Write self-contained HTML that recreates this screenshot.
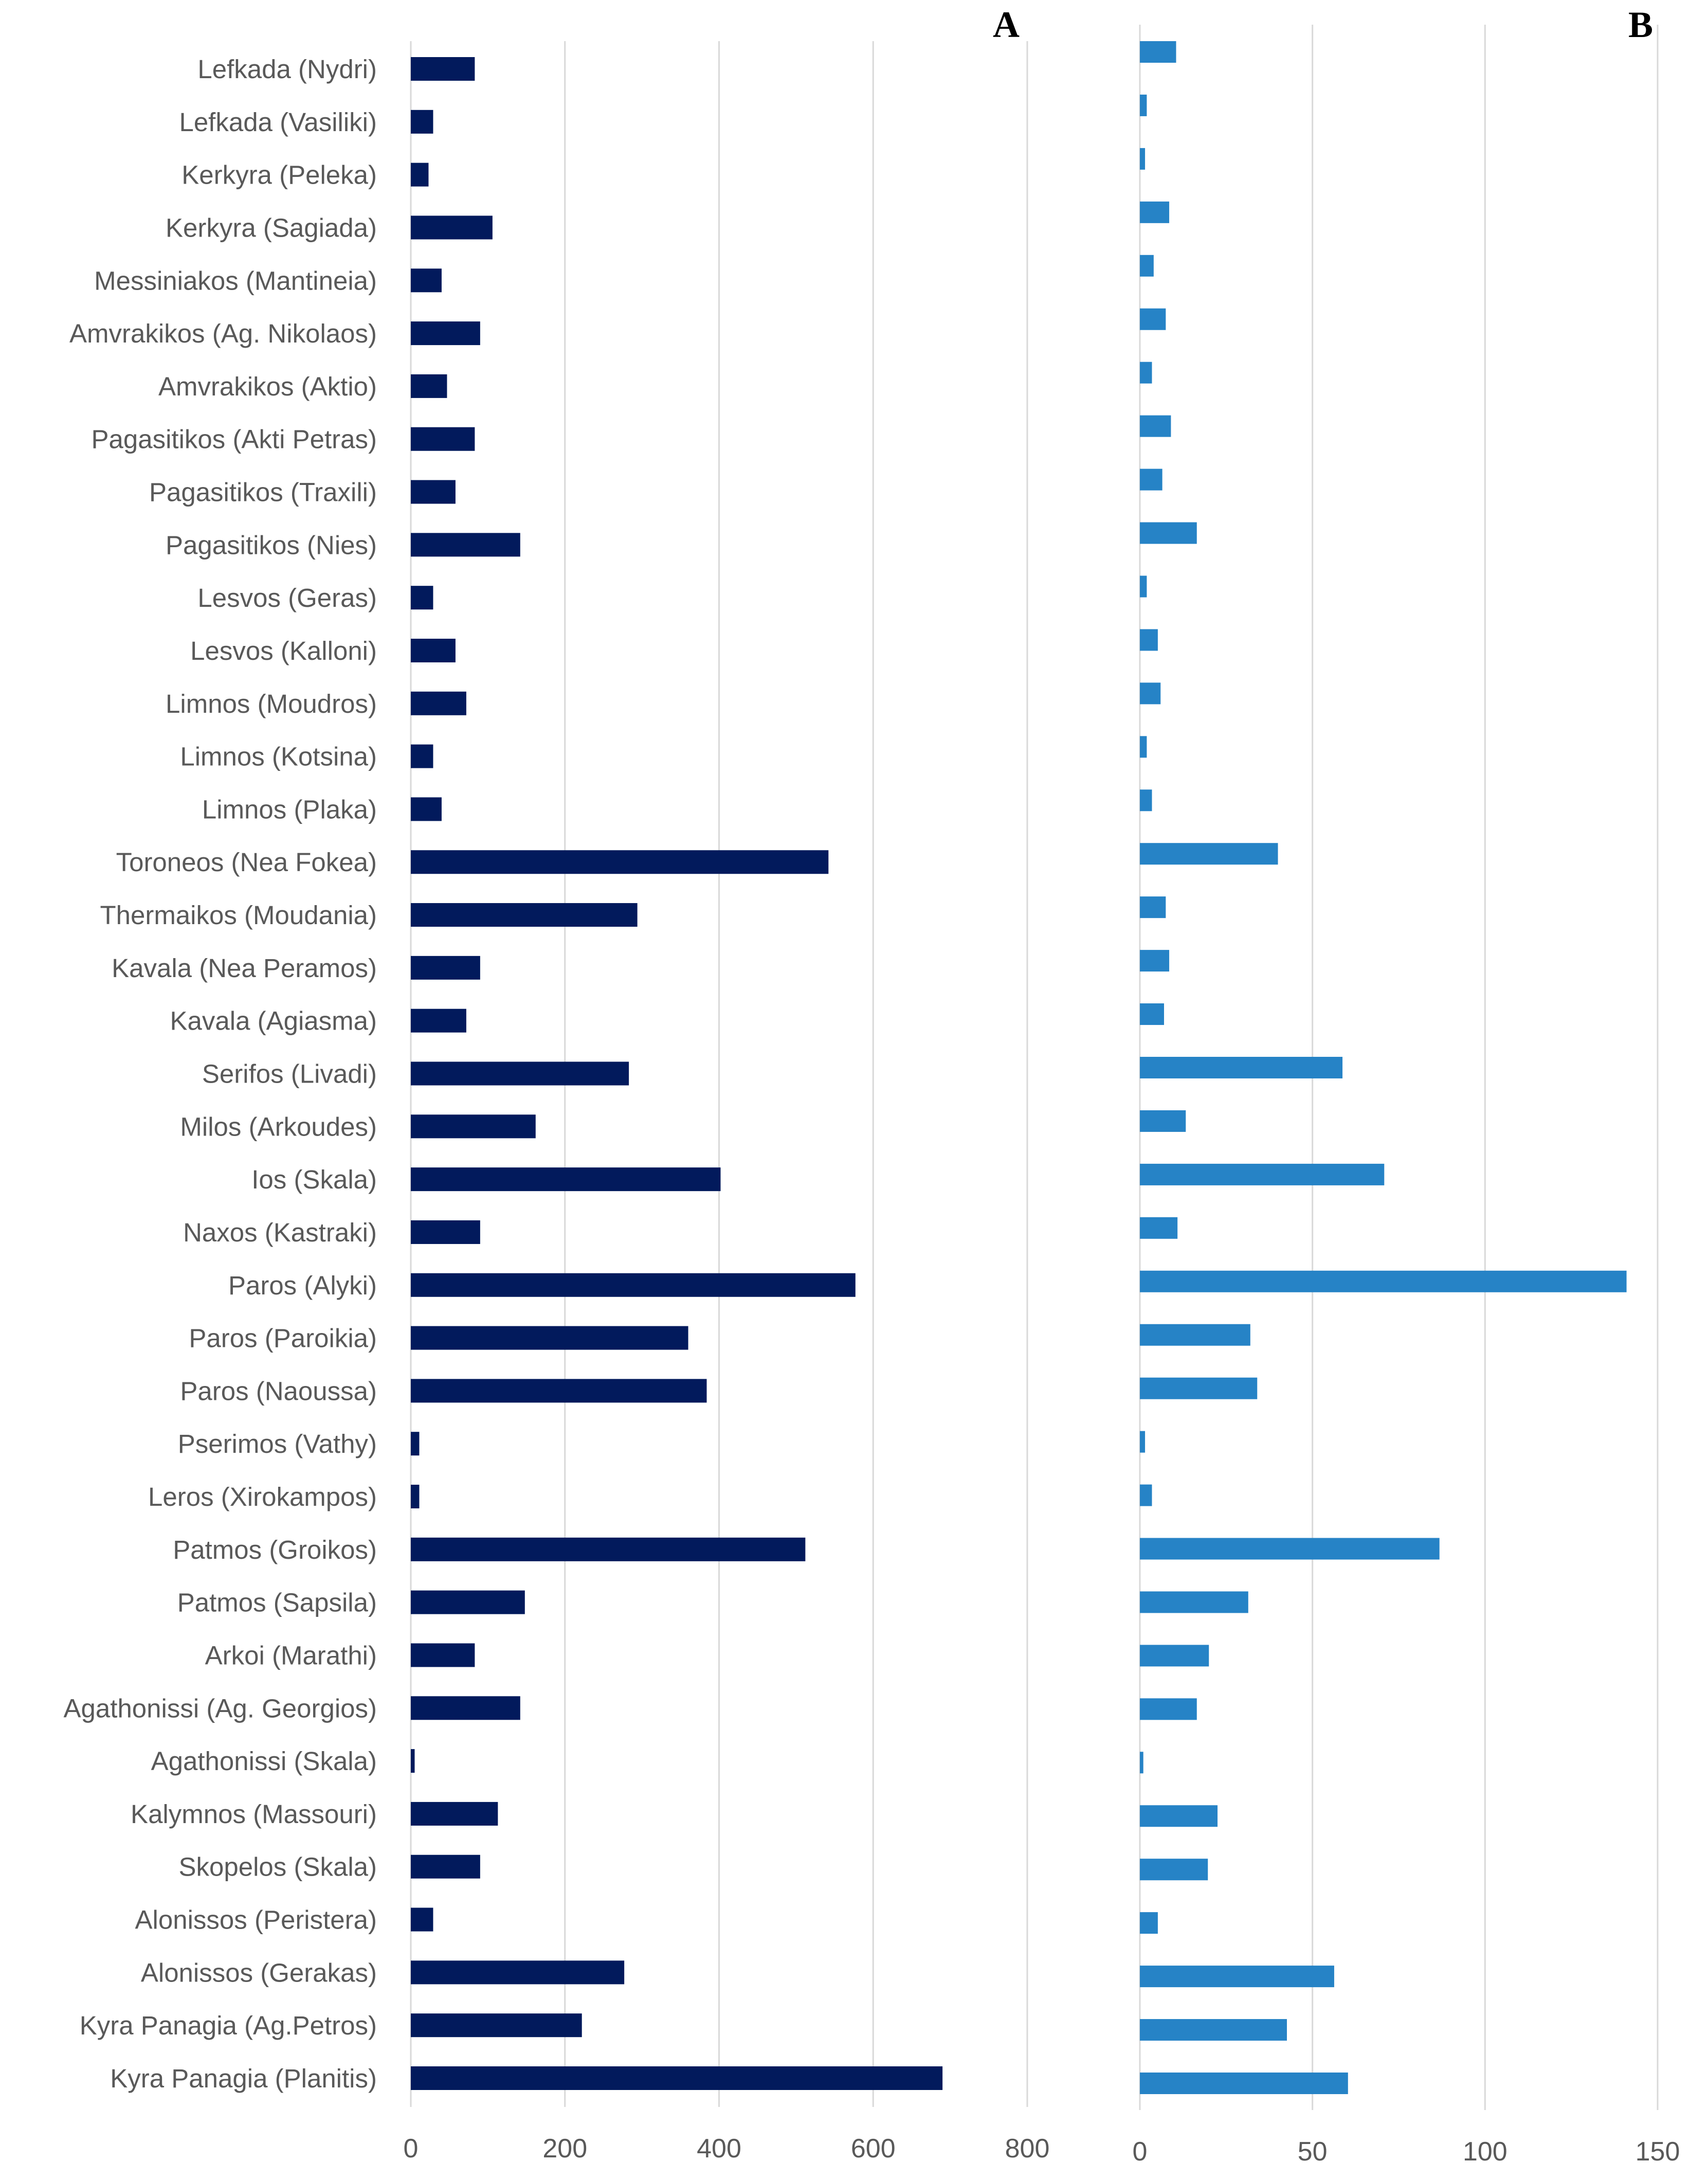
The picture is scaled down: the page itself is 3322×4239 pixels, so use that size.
<!DOCTYPE html>
<html><head><meta charset="utf-8"><style>
html,body{margin:0;padding:0;background:#fff;}
svg{display:block;}
</style></head><body>
<svg id="chart" width="3322" height="4239" viewBox="0 0 3322 4239" xmlns="http://www.w3.org/2000/svg">
<g id="grid"></g><g id="bars"></g><g id="labels"></g><g id="ticks"></g>
<text x="1957" y="72" font-family="Liberation Serif, serif" font-weight="bold" font-size="72" text-anchor="middle" fill="#000">A</text>
<text x="3191" y="72" font-family="Liberation Serif, serif" font-weight="bold" font-size="72" text-anchor="middle" fill="#000">B</text>
</svg>
<script>
const categories = ["Lefkada (Nydri)","Lefkada (Vasiliki)","Kerkyra (Peleka)","Kerkyra (Sagiada)","Messiniakos (Mantineia)","Amvrakikos (Ag. Nikolaos)","Amvrakikos (Aktio)","Pagasitikos (Akti Petras)","Pagasitikos (Traxili)","Pagasitikos (Nies)","Lesvos (Geras)","Lesvos (Kalloni)","Limnos (Moudros)","Limnos (Kotsina)","Limnos (Plaka)","Toroneos (Nea Fokea)","Thermaikos (Moudania)","Kavala (Nea Peramos)","Kavala (Agiasma)","Serifos (Livadi)","Milos (Arkoudes)","Ios (Skala)","Naxos (Kastraki)","Paros (Alyki)","Paros (Paroikia)","Paros (Naoussa)","Pserimos (Vathy)","Leros (Xirokampos)","Patmos (Groikos)","Patmos (Sapsila)","Arkoi (Marathi)","Agathonissi (Ag. Georgios)","Agathonissi (Skala)","Kalymnos (Massouri)","Skopelos (Skala)","Alonissos (Peristera)","Alonissos (Gerakas)","Kyra Panagia (Ag.Petros)","Kyra Panagia (Planitis)"];
const valuesA = [83,29,23,106,40,90,47,83,58,142,29,58,72,29,40,542,294,90,72,283,162,402,90,577,360,384,11,11,512,148,83,142,5,113,90,29,277,222,690];
const valuesB = [10.5,2,1.5,8.5,4,7.5,3.5,9,6.5,16.5,2,5.2,6,2,3.5,40,7.5,8.5,7,58.7,13.3,70.8,10.9,141,32,34,1.5,3.5,86.8,31.4,20,16.5,1,22.5,19.7,5.2,56.3,42.6,60.3];
const ticksA = [0,200,400,600,800];
const ticksB = [0,50,100,150];

const NS="http://www.w3.org/2000/svg";
const n = categories.length;
const xA = v => 799 + v*(1199/800);
const xB = v => 2217 + v*(1007/150);
const yA = i => 134 + i*(4041-134)/(n-1);
const yB = i => 101 + i*(4051-101)/(n-1);
function mk(tag, attrs, parent){const e=document.createElementNS(NS,tag);for(const k in attrs)e.setAttribute(k,attrs[k]);document.getElementById(parent).appendChild(e);return e;}

ticksA.forEach(t=>{
  const l=mk('line',{x1:xA(t),x2:xA(t),y1:80,y2:4097,stroke:'#d9d9d9','stroke-width':3},'grid');
  
  
  const tx=mk('text',{x:xA(t),y:4195,'text-anchor':'middle','font-family':'Liberation Sans, sans-serif','font-size':52,fill:'#595959'},'ticks');
  tx.textContent=t;
  
  
});
ticksB.forEach(t=>{
  const l=mk('line',{x1:xB(t),x2:xB(t),y1:48,y2:4103,stroke:'#d9d9d9','stroke-width':3},'grid');
  
  
  const tx=mk('text',{x:xB(t),y:4201,'text-anchor':'middle','font-family':'Liberation Sans, sans-serif','font-size':52,fill:'#595959'},'ticks');
  tx.textContent=t;
  
  
});
categories.forEach((c,i)=>{
  const tx=mk('text',{x:733,y:yA(i)+18,'text-anchor':'end','font-family':'Liberation Sans, sans-serif','font-size':51,fill:'#595959'},'labels');
  tx.textContent=c;
  
  
  const ba=mk('rect',{x:xA(0),y:yA(i)-23,width:xA(valuesA[i])-xA(0),height:46,fill:'#021a5c'},'bars');
  
  
  const bb=mk('rect',{x:xB(0),y:yB(i)-21,width:xB(valuesB[i])-xB(0),height:42,fill:'#2683c6'},'bars');
  
  
});
</script>
</body></html>
